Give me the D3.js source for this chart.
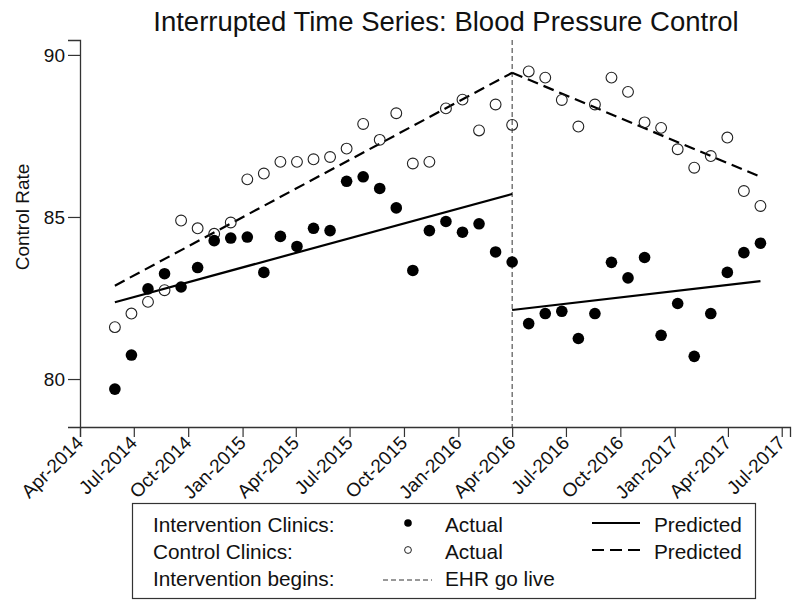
<!DOCTYPE html>
<html>
<head>
<meta charset="utf-8">
<script src="https://cdn.jsdelivr.net/npm/d3@7"></script>
<style>
  body { margin: 0; background: #fff; }
  svg { font-family: "Liberation Sans", Arial, sans-serif; }
</style>
</head>
<body>
<script>
// 4-week reporting periods
var periods = [
  "2014-05-30", "2014-06-27", "2014-07-25", "2014-08-22", "2014-09-19", "2014-10-17",
  "2014-11-14", "2014-12-12", "2015-01-09", "2015-02-06", "2015-03-06", "2015-04-03",
  "2015-05-01", "2015-05-29", "2015-06-26", "2015-07-24", "2015-08-21", "2015-09-18",
  "2015-10-16", "2015-11-13", "2015-12-11", "2016-01-08", "2016-02-05", "2016-03-04",
  "2016-04-01", "2016-04-29", "2016-05-27", "2016-06-24", "2016-07-22", "2016-08-19",
  "2016-09-16", "2016-10-14", "2016-11-11", "2016-12-09", "2017-01-06", "2017-02-03",
  "2017-03-03", "2017-03-31", "2017-04-28", "2017-05-26"
];

var interventionActual = [
  79.69, 80.74, 82.78, 83.25, 82.84, 83.44, 84.27, 84.35, 84.38, 83.29,
  84.40, 84.09, 84.65, 84.58, 86.10, 86.24, 85.88, 85.28, 83.35, 84.58,
  84.86, 84.53, 84.79, 83.92, 83.61,
  81.71, 82.02, 82.09, 81.25, 82.02, 83.60, 83.12, 83.75, 81.35, 82.33,
  80.70, 82.02, 83.29, 83.90, 84.19
];

var controlActual = [
  81.60, 82.02, 82.38, 82.74, 84.89, 84.65, 84.48, 84.83, 86.16, 86.34,
  86.70, 86.70, 86.78, 86.85, 87.11, 87.87, 87.38, 88.20, 86.65, 86.70,
  88.35, 88.62, 87.67, 88.47, 87.84,
  89.49, 89.30, 88.61, 87.79, 88.47, 89.30, 88.86, 87.92, 87.75, 87.09,
  86.52, 86.88, 87.45, 85.80, 85.34
];

// predicted segments: [start period, end period, start value, end value]
var interventionPredicted = [
  ["2014-05-30", "2016-04-01", 82.37, 85.71],
  ["2016-04-01", "2017-05-26", 82.13, 83.02]
];
var controlPredicted = [
  ["2014-05-30", "2016-04-01", 82.88, 89.45],
  ["2016-04-01", "2017-05-26", 89.45, 86.24]
];

var goLive = "2016-04-01";
var xTicks = [
  "2014-04-01", "2014-07-01", "2014-10-01", "2015-01-01", "2015-04-01", "2015-07-01",
  "2015-10-01", "2016-01-01", "2016-04-01", "2016-07-01", "2016-10-01", "2017-01-01",
  "2017-04-01", "2017-07-01"
];
var yTicks = [80, 85, 90];

var width = 803, height = 601;
var parse = d3.timeParse("%Y-%m-%d");

var svg = d3.select("body").append("svg")
  .attr("width", width)
  .attr("height", height);

var x = d3.scaleTime()
  .domain([parse("2014-04-01"), parse("2017-07-15")])
  .range([80, 790]);

var y = d3.scaleLinear()
  .domain([78.52, 90.46])
  .range([427, 40]);

/* title */
svg.append("text")
  .attr("x", 446)
  .attr("y", 31)
  .attr("text-anchor", "middle")
  .attr("font-size", 27.5)
  .attr("fill", "#111")
  .text("Interrupted Time Series: Blood Pressure Control");

/* axes */
var xAxis = svg.append("g")
  .attr("transform", "translate(0,427)")
  .call(d3.axisBottom(x)
    .tickValues(xTicks.map(parse))
    .tickSize(10)
    .tickPadding(3)
    .tickFormat(d3.timeFormat("%b-%Y")));
xAxis.select(".domain").attr("stroke", "#333").attr("stroke-width", 1.3);
xAxis.selectAll(".tick line").attr("stroke", "#333").attr("stroke-width", 1.2);
xAxis.selectAll(".tick text")
  .attr("font-size", 19)
  .attr("fill", "#111")
  .attr("text-anchor", "end")
  .attr("dy", null)
  .attr("y", 0)
  .attr("transform", "translate(4,17) rotate(-45)");

var yAxis = svg.append("g")
  .attr("transform", "translate(80,0)")
  .call(d3.axisLeft(y)
    .tickValues(yTicks)
    .tickSize(12)
    .tickPadding(3));
yAxis.select(".domain").attr("stroke", "#333").attr("stroke-width", 1.3);
yAxis.selectAll(".tick line").attr("stroke", "#333").attr("stroke-width", 1.2);
yAxis.selectAll(".tick text").attr("font-size", 19).attr("fill", "#111");

svg.append("text")
  .attr("transform", "translate(29,217) rotate(-90)")
  .attr("text-anchor", "middle")
  .attr("font-size", 19)
  .attr("fill", "#111")
  .text("Control Rate");

/* intervention begins */
svg.append("line")
  .attr("x1", x(parse(goLive))).attr("x2", x(parse(goLive)))
  .attr("y1", 40).attr("y2", 427)
  .attr("stroke", "#333")
  .attr("stroke-width", 1)
  .attr("stroke-dasharray", "5,3");

/* predicted lines */
var seg = d3.line()
  .x(function(d) { return x(parse(d[0])); })
  .y(function(d) { return y(d[1]); });

function segPoints(s) { return [[s[0], s[2]], [s[1], s[3]]]; }

svg.append("g").selectAll("path")
  .data(interventionPredicted)
  .enter().append("path")
    .attr("d", function(d) { return seg(segPoints(d)); })
    .attr("fill", "none")
    .attr("stroke", "#000")
    .attr("stroke-width", 2.2);

svg.append("g").selectAll("path")
  .data(controlPredicted)
  .enter().append("path")
    .attr("d", function(d) { return seg(segPoints(d)); })
    .attr("fill", "none")
    .attr("stroke", "#000")
    .attr("stroke-width", 2.2)
    .attr("stroke-dasharray", "11,6");

/* actual points */
svg.append("g").selectAll("circle")
  .data(controlActual)
  .enter().append("circle")
    .attr("cx", function(d, i) { return x(parse(periods[i])); })
    .attr("cy", function(d) { return y(d); })
    .attr("r", 5.4)
    .attr("fill", "none")
    .attr("stroke", "#222")
    .attr("stroke-width", 1.1);

svg.append("g").selectAll("circle")
  .data(interventionActual)
  .enter().append("circle")
    .attr("cx", function(d, i) { return x(parse(periods[i])); })
    .attr("cy", function(d) { return y(d); })
    .attr("r", 5.8)
    .attr("fill", "#000");

/* legend */
var legend = svg.append("g");
legend.append("rect")
  .attr("x", 132.5).attr("y", 503.5)
  .attr("width", 623).attr("height", 95)
  .attr("fill", "#fff")
  .attr("stroke", "#333")
  .attr("stroke-width", 1.2);

var rows = [
  { label: "Intervention Clinics:", kind: "filled", text: "Actual", line: "solid" },
  { label: "Control Clinics:", kind: "open", text: "Actual", line: "dashed" },
  { label: "Intervention begins:", kind: "vline", text: "EHR go live", line: null }
];
var rowY = [525, 552, 579];

rows.forEach(function(r, i) {
  var cy = rowY[i];
  legend.append("text")
    .attr("x", 153).attr("y", cy + 7)
    .attr("font-size", 20.8).attr("fill", "#111")
    .text(r.label);
  if (r.kind === "filled") {
    legend.append("circle").attr("cx", 408).attr("cy", cy - 2).attr("r", 3.8).attr("fill", "#000");
  } else if (r.kind === "open") {
    legend.append("circle").attr("cx", 408).attr("cy", cy - 2).attr("r", 3.4)
      .attr("fill", "none").attr("stroke", "#222").attr("stroke-width", 1);
  } else {
    legend.append("line").attr("x1", 383).attr("x2", 432).attr("y1", cy + 1).attr("y2", cy + 1)
      .attr("stroke", "#333").attr("stroke-width", 1).attr("stroke-dasharray", "5,3");
  }
  legend.append("text")
    .attr("x", 445).attr("y", cy + 7)
    .attr("font-size", 20.8).attr("fill", "#111")
    .text(r.text);
  if (r.line) {
    legend.append("line").attr("x1", 592).attr("x2", 640).attr("y1", cy - 2).attr("y2", cy - 2)
      .attr("stroke", "#000").attr("stroke-width", 2.2)
      .attr("stroke-dasharray", r.line === "dashed" ? "12,6" : null);
    legend.append("text")
      .attr("x", 654).attr("y", cy + 7)
      .attr("font-size", 20.8).attr("fill", "#111")
      .text("Predicted");
  }
});
</script>
</body>
</html>
